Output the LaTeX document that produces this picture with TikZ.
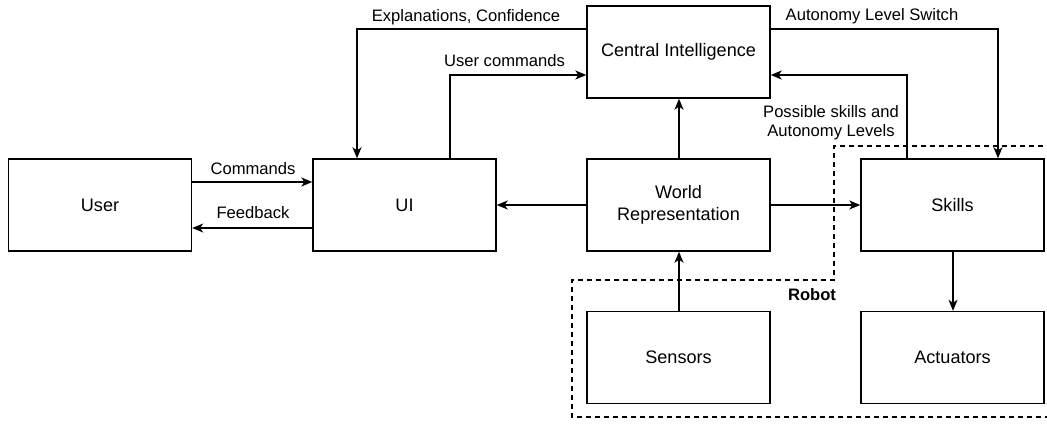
\documentclass[tikz,border=0pt]{standalone}
\usepackage{fontspec}
\setmainfont{Liberation Sans}
\usetikzlibrary{arrows.meta}
\begin{document}
\begin{tikzpicture}[x=1pt,y=-1pt,
  box/.style={draw, line width=1.4pt, minimum width=183pt, minimum height=92pt, inner sep=0pt, align=center, font=\fontsize{18.1}{22}\selectfont},
  arr/.style={line width=1.4pt, -{Stealth[length=11pt,width=9pt,inset=3pt]}},
  lab/.style={inner sep=0pt, align=center, font=\fontsize{16.6}{19}\selectfont},
  robot/.style={line width=1.3pt, dash pattern=on 5pt off 4pt}]
\useasboundingbox (0,0) rectangle (1047,424);
\node[box] (ci) at (678.5,52) {Central Intelligence};
\node[box] (user) at (100,205) {User};
\node[box] (ui) at (404.5,205) {UI};
\node[box] (wr) at (678.5,205) {World\\Representation};
\node[box] (sk) at (952.5,205) {Skills};
\node[box] (se) at (678.5,357.5) {Sensors};
\node[box] (ac) at (952.5,357.5) {Actuators};
\draw[robot] (1070,146) -- (834,146) -- (834,280) -- (572,280) -- (572,417) -- (1070,417);
\node[lab, font=\fontsize{16.6}{19}\selectfont\bfseries] (rl) at (812,295) {Robot};
\draw[arr] ([yshift=23pt]ci.west) -| ([xshift=-47.5pt]ui.north);
\draw[arr] ([xshift=45.5pt]ui.north) |- ([yshift=-23pt]ci.west);
\draw[arr] ([xshift=0.5pt]wr.north) -- ([xshift=0.5pt]ci.south);
\draw[arr] ([yshift=23pt]ci.east) -| ([xshift=45.5pt]sk.north);
\draw[arr] ([xshift=-45.5pt]sk.north) |- ([yshift=-23pt]ci.east);
\draw[arr] (wr.east) -- (sk.west);
\draw[arr] (wr.west) -- (ui.east);
\draw[arr] ([xshift=0.5pt]se.north) -- ([xshift=0.5pt]wr.south);
\draw[arr] ([xshift=0.5pt]sk.south) -- ([xshift=0.5pt]ac.north);
\draw[arr] ([yshift=23pt]user.east) -- ([yshift=23pt]ui.west);
\draw[arr] ([yshift=-23pt]ui.west) -- ([yshift=-23pt]user.east);
\node[lab] (l1) at (466,17) {Explanations, Confidence};
\node[lab] (l2) at (504.5,61) {User commands};
\node[lab] (l3) at (872,16) {Autonomy Level Switch};
\node[lab] (l4) at (831,123) {Possible skills and\\Autonomy Levels};
\node[lab] (l5) at (253,169) {Commands};
\node[lab] (l6) at (253,213) {Feedback};
\end{tikzpicture}
\end{document}
